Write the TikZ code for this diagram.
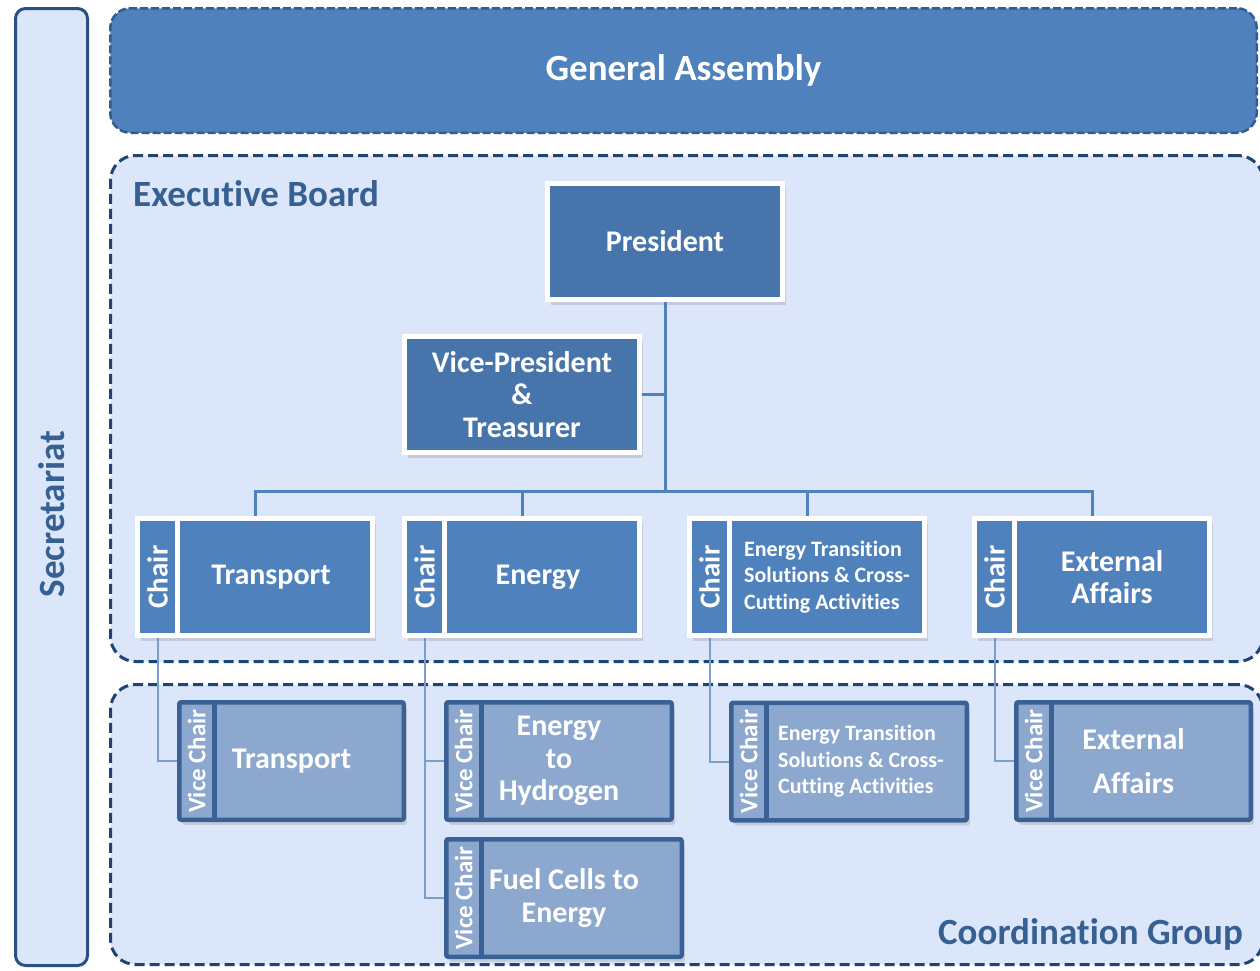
\documentclass[tikz,border=0pt]{standalone}
\usepackage{fontspec}
\setmainfont{Carlito}[Ligatures=NoCommon]
\usepackage{graphicx}
\usepackage{xcolor}
\usetikzlibrary{positioning}
\usetikzlibrary{shadows}
\usetikzlibrary{calc}
\pgfdeclarelayer{back}
\pgfdeclarelayer{mid}
\pgfsetlayers{back,mid,main}
\definecolor{paleblue}{RGB}{220,230,250}
\definecolor{edgeblue}{RGB}{31,67,115}
\definecolor{secedge}{RGB}{40,80,130}
\definecolor{headblue}{RGB}{55,96,146}
\definecolor{gablue}{RGB}{79,129,189}
\definecolor{gaedge}{RGB}{55,90,140}
\definecolor{presblue}{RGB}{70,116,171}
\definecolor{chairblue}{RGB}{79,129,189}
\definecolor{viceblue}{RGB}{141,168,206}
\definecolor{viceedge}{RGB}{58,97,149}
\definecolor{lineblue}{RGB}{125,157,205}
\tikzset{%
  groupbox/.style={rectangle,rounded corners=25pt,fill=paleblue,draw=edgeblue,line width=3pt,dash pattern=on 10pt off 5pt,minimum width=1152.5pt,inner sep=0pt,outer sep=0pt},
  secbox/.style={rectangle,rounded corners=10pt,fill=paleblue,draw=secedge,line width=3pt,minimum width=72pt,minimum height=957pt},
  gabox/.style={rectangle,rounded corners=20pt,fill=gablue,draw=gaedge,line width=2.5pt,dash pattern=on 8pt off 3pt,minimum width=1146.5pt,minimum height=124.5pt,text=white,font=\fontsize{37}{44}\selectfont\bfseries},
  headtext/.style={text=headblue,font=\fontsize{37}{44}\selectfont\bfseries,inner sep=0pt},
  shade/.style={drop shadow={opacity=0.25,shadow xshift=3pt,shadow yshift=-5pt}},
  officebox/.style={rectangle,fill=presblue,draw=white,line width=5pt,minimum width=235pt,minimum height=116pt,text=white,align=center,font=\fontsize{30}{32.5}\selectfont\bfseries,shade},
  chairbox/.style={rectangle,fill=chairblue,draw=white,line width=5pt,minimum width=235pt,minimum height=117pt,inner sep=0pt,outer sep=0pt,shade},
  chairstrip/.style={rectangle,minimum width=40pt,minimum height=117pt,inner sep=0pt,outer sep=0pt,text=white,font=\fontsize{29}{32}\selectfont\bfseries},
  chairtext/.style={text=white,align=center,font=\fontsize{30}{31.5}\selectfont\bfseries},
  chairsep/.style={draw=white,line width=5pt},
  vicebox/.style={rectangle,rounded corners=2pt,fill=viceblue,draw=viceedge,line width=4.5pt,minimum height=117.5pt,inner sep=0pt,outer sep=0pt,shade},
  vicestrip/.style={rectangle,minimum width=35pt,minimum height=117.5pt,inner sep=0pt,outer sep=0pt,text=white,font=\fontsize{25}{28}\selectfont\bfseries},
  vicetext/.style={text=white,align=center,font=\fontsize{30}{32.5}\selectfont\bfseries},
  vicesep/.style={draw=viceedge,line width=5pt},
  ettext/.style={align=left,font=\fontsize{22}{26.5}\selectfont\bfseries},
  busline/.style={draw=chairblue,line width=3pt},
  viceline/.style={draw=lineblue,line width=2pt}
}
\newcommand\chairunit[5][]{%
  \node[chairbox] (#2) at (#3,#4) {};
  \node[chairstrip,anchor=west] (#2c) at (#2.west) {\rotatebox{90}{Chair}};
  \draw[chairsep] (#2c.north east) -- (#2c.south east);
  \node[chairtext,#1] (#2m) at ($(#2c.east)!.5!(#2.east)$) {#5};
}
\newcommand\viceunit[6][]{%
  \node[vicebox,minimum width=#5] (#2) at (#3,#4) {};
  \node[vicestrip,anchor=west] (#2c) at (#2.west) {\rotatebox{90}{Vice Chair}};
  \draw[vicesep] (#2c.north east) -- (#2c.south east);
  \node[vicetext,#1] (#2m) at (#2.center) {#6};
}
\begin{document}
\begin{tikzpicture}[x=1pt,y=-1pt]
    \useasboundingbox (0,0) rectangle (1260,970);
    \begin{pgfonlayer}{back}
        \node[secbox] (sec) at (51.5,487) {};
        \node[gabox] (ga) at (683.5,70.5) {General Assembly};
        \node[groupbox,minimum height=506pt] (exec) at (686.75,408.5) {};
        \node[groupbox,minimum height=280pt] (coord) at (686.75,824.5) {};
    \end{pgfonlayer}
    \node[headtext,rotate=90] (seclabel) at (52,514) {Secretariat};
    \node[headtext,anchor=base west] (execlabel) at (133,206) {Executive Board};
    \node[headtext,anchor=base east] (coordlabel) at (1243,944) {Coordination Group};

    \node[officebox] (pres) at (665,241.5) {President};
    \node[officebox] (vp) at (522,394.5) {Vice-President\\\&\\Treasurer};

    \chairunit[xshift=-4pt]{tr}{255}{577}{Transport}
    \chairunit[xshift=-4pt]{en}{522}{577}{Energy}
    \chairunit[ettext]{et}{807}{577}{Energy Transition\\Solutions \& Cross-\\Cutting Activities}
    \chairunit{ex}{1092}{577}{External\\Affairs}

    \viceunit{vtr}{291.5}{761}{224.5pt}{Transport}
    \viceunit{veh}{559}{761}{225.5pt}{Energy\\to\\Hydrogen}
    \viceunit{vfc}{564}{898}{235.5pt}{Fuel Cells to\\Energy}
    \viceunit[ettext,xshift=12pt]{vet}{849}{761.5}{235.5pt}{Energy Transition\\Solutions \& Cross-\\Cutting Activities}
    \viceunit{vex}{1133.5}{761}{234.5pt}{External\\[11pt]Affairs}

    \begin{pgfonlayer}{mid}
        \coordinate (bus) at (665,491);
        \draw[busline] (pres.south) -- (bus);
        \draw[busline] (vp.east) -- (vp.east -| bus);
        \draw[busline] (tr.north) |- (bus) -| (ex.north);
        \draw[busline] (en.north) -- (en.north |- bus);
        \draw[busline] (et.north) -- (et.north |- bus);
        \draw[viceline] (trc.south) |- (vtr.west);
        \draw[viceline] (enc.south) |- (veh.west);
        \draw[viceline] (enc.south) |- (vfc.west);
        \draw[viceline] (etc.south) |- (vet.west);
        \draw[viceline] (exc.south) |- (vex.west);
    \end{pgfonlayer}
\end{tikzpicture}
\end{document}
